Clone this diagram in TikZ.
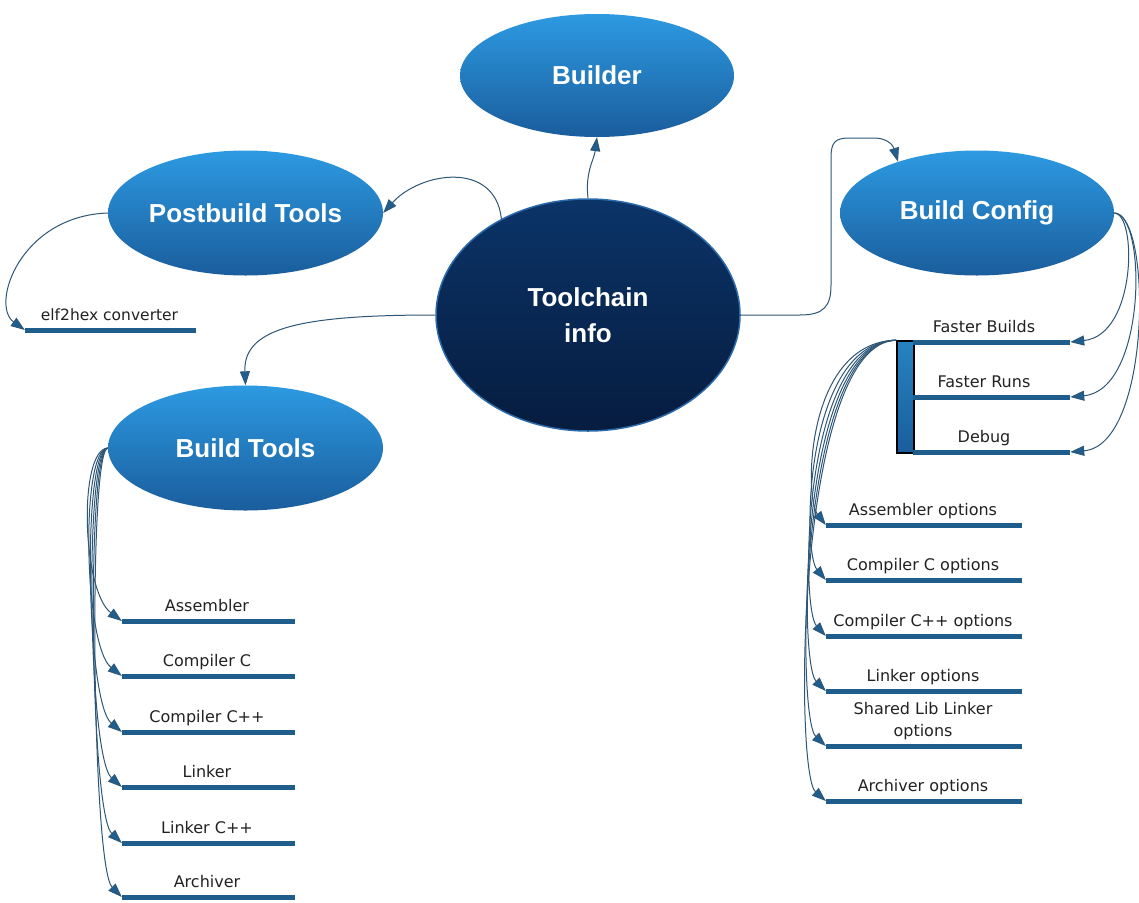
\documentclass[tikz,border=0pt]{standalone}
\usepackage{fontspec}
\setmainfont{Liberation Sans}
\newfontfamily\lblfont{DejaVu Sans}
\usetikzlibrary{shapes.geometric,arrows.meta}
\definecolor{bubtop}{HTML}{2D9AE2}
\definecolor{bubbot}{HTML}{1A5D9C}
\definecolor{tctop}{HTML}{0B3468}
\definecolor{tcbot}{HTML}{061C3F}
\definecolor{tcrim}{HTML}{2A6AAA}
\definecolor{barc}{HTML}{1F5D8C}
\definecolor{connc}{HTML}{2E5677}
\definecolor{arrc}{HTML}{1F5F90}
\definecolor{textc}{HTML}{222222}
\begin{document}
\begin{tikzpicture}[x=1pt,y=-1pt,
  bubble/.style={ellipse, inner sep=0pt, minimum width=275pt, minimum height=125pt,
    top color=bubtop, bottom color=bubbot, text=white,
    font=\bfseries\fontsize{26}{36}\selectfont},
  bar/.style={rectangle, fill=barc, inner sep=0pt, minimum height=5pt},
  lbl/.style={font=\lblfont\fontsize{16}{22}\selectfont, text=textc, inner sep=0pt},
  conn/.style={draw=connc, line width=1pt, -{Triangle[length=14pt,width=10pt,fill=arrc]}}]
\useasboundingbox (0,0) rectangle (1139,902);
\fill[white] (0,0) rectangle (1139,902);

% main bubbles
\node[bubble, minimum width=304pt, minimum height=232pt, top color=tctop, bottom color=tcbot,
  draw=tcrim, line width=1.5pt, align=center] (tc) at (588,315) {Toolchain\\info};
\node[bubble, minimum width=274pt, minimum height=123pt] (bu) at (597,75.5) {Builder};
\node[bubble] (pb) at (245.5,213) {Postbuild Tools};
\node[bubble, minimum width=274pt] (bc) at (977,213) {Build Config};
\node[bubble] (bt) at (245.5,448) {Build Tools};

% elf2hex
\node[bar, minimum width=171pt] (elf) at (110.5,330) {};
\node[lbl, anchor=base, font=\lblfont\fontsize{15.5}{18}\selectfont] (elft) at ([xshift=-1pt,yshift=7pt]elf.north) {elf2hex converter};

% build tools items
\foreach \n/\y/\t in {asm/621/Assembler, ccc/676/Compiler C, cpp/732/Compiler C++,
    lnk/787/Linker, lnkpp/843/Linker C++, arc/897/Archiver}{
  \node[bar, minimum width=173pt] (\n) at (208.5,\y) {};
  \node[lbl, anchor=base] (\n t) at ([xshift=-1.5pt,yshift=7pt]\n.north) {\t};
}

% build config bar
\node[draw=black, line width=1.6pt, minimum width=17pt, minimum height=112pt, inner sep=0pt,
  top color=bubtop!85!black, bottom color=bubbot] (cfgbar) at (905.5,397) {};
\foreach \n/\y/\t in {fb/342/Faster Builds, fr/397/Faster Runs, dbg/452/Debug}{
  \node[bar, minimum width=157pt] (\n) at (991.5,\y) {};
  \node[lbl, anchor=base] (\n t) at ([xshift=-7.5pt,yshift=7pt]\n.north) {\t};
}

% options items
\foreach \n/\y/\t in {aso/525/Assembler options, cco/580/Compiler C options,
    cppo/636/Compiler C++ options, lko/691/Linker options, arco/801/Archiver options}{
  \node[bar, minimum width=196pt] (\n) at (924,\y) {};
  \node[lbl, anchor=base] (\n t) at ([xshift=-1pt,yshift=7pt]\n.north) {\t};
}
\node[bar, minimum width=196pt] (slo) at (924,746) {};
\node[lbl, anchor=south, align=center] (slot) at ([xshift=-1pt,yshift=3pt]slo.north) {Shared Lib Linker\\options};

% connectors from toolchain
\draw[conn] (tc.north) .. controls (585,172) and (594,160) .. (bu.south);
\draw[conn] (tc.132) .. controls (495,160) and (420,172) .. (pb.east);
\draw[conn] (tc.west) .. controls (300,315) and (243,328) .. (bt.north);
\draw[conn] (tc.east) -- (800,315) .. controls (824,315) and (831,306) .. (831,285)
  -- (831,158) .. controls (831,142) and (835,138) .. (850,138) -- (874,138)
  .. controls (887,138) and (893,145) .. (bc.147);

% postbuild
\draw[conn] (pb.west) .. controls (20,216) and (-10,305) .. (elf.west);

% build tools fan
\foreach \n/\y/\c in {asm/621/78, ccc/676/80, cpp/732/82, lnk/787/84, lnkpp/843/86, arc/897/88}{
  \draw[conn] (bt.west) .. controls (\c,450) and (\c+4,\y-30) .. (\n.west);
}

% build config to modes
\draw[conn] (bc.east) .. controls (1137,213) and (1137,335) .. (fb.east);
\draw[conn] (bc.east) .. controls (1147,213) and (1147,390) .. (fr.east);
\draw[conn] (bc.east) .. controls (1152,213) and (1152,445) .. (dbg.east);

% bar to options fan
\foreach \n/\y/\c in {aso/525/806, cco/580/804, cppo/636/802, lko/691/800, slo/746/798, arco/801/796}{
  \draw[conn] (cfgbar.north west) .. controls (\c,342) and (\c-2,\y-28) .. (\n.west);
}
\end{tikzpicture}
\end{document}
